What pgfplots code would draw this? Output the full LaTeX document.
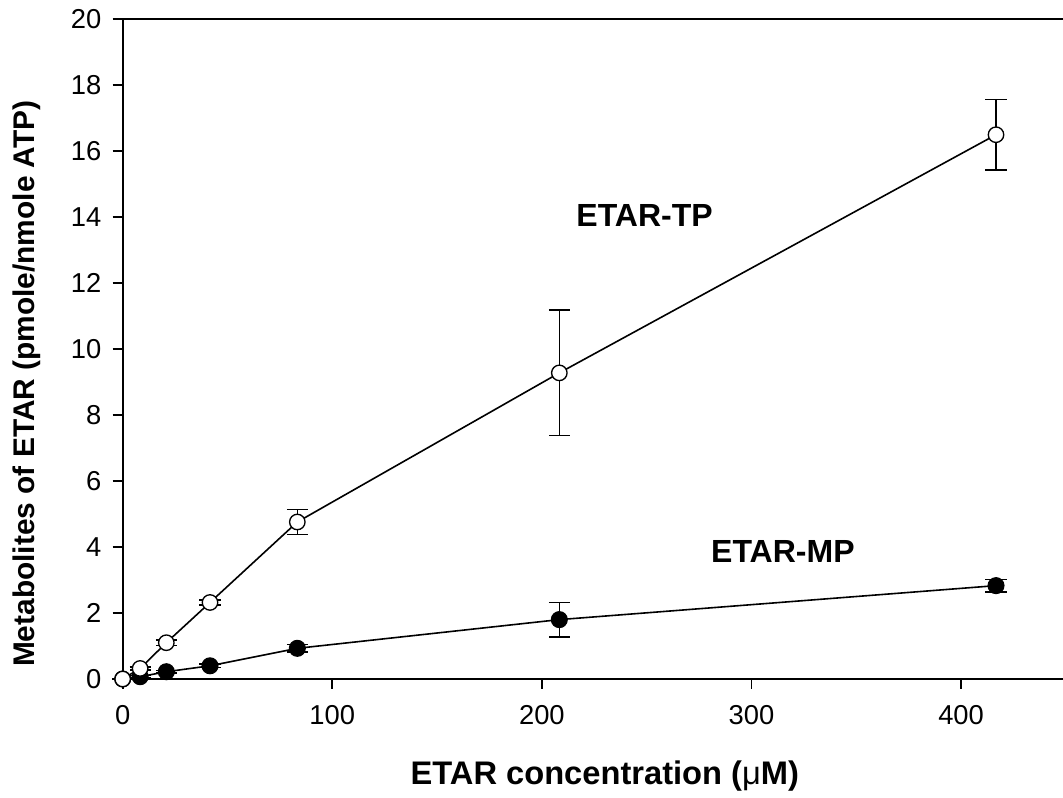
\documentclass[border=0pt]{standalone}
\usepackage{fontspec}
\setmainfont{Liberation Sans}
\usepackage{pgfplots}
\pgfplotsset{compat=1.18}
\begin{document}
\begin{tikzpicture}[x=1pt,y=1pt]
\begin{axis}[
  scale only axis,
  width=705.2pt, height=494.8pt,
  xmin=0, xmax=448.6, ymin=0, ymax=20,
  axis x line*=bottom, axis y line*=left,
  axis line style={line width=1.3pt, -},
  xtick={0,100,200,300,400},
  ytick={0,2,...,20},
  tick align=outside, major tick length=7.5pt,
  tick style={line width=1.3pt, black},
  tick label style={font=\fontsize{20.5}{23}\selectfont},
  /pgf/number format/assume math mode=true,
  xticklabel style={yshift=-9pt},
  yticklabel style={xshift=-5pt},
  xlabel={\fontsize{24.5}{28}\selectfont\bfseries ETAR concentration ({\mdseries μ}M)},
  ylabel={\fontsize{22.4}{26}\selectfont\bfseries Metabolites of ETAR (pmole/nmole ATP)},
  xlabel style={yshift=-20pt, xshift=9pt},
  ylabel style={yshift=16pt, xshift=-26pt},
  clip=false,
  error bars/error bar style={line width=1.2pt, black},
  error bars/error mark options={rotate=90, mark size=7.9pt, line width=1.2pt, black},
]
\coordinate (O) at (rel axis cs:0,0);
\draw[line width=1.3pt] (rel axis cs:0,1) -- (rel axis cs:1,1);
% ETAR-MP
\addplot[black, line width=1.2pt, mark=*, mark size=6pt, mark options={fill=black, draw=black, line width=0.8pt},
  error bars/.cd, y dir=both, y explicit]
  table[x=x, y=y, y error=e] {
x y e
0 0 0
8.33 0.07 0.03
20.83 0.22 0.04
41.67 0.40 0.05
83.33 0.93 0.12
208.33 1.80 0.52
416.67 2.83 0.19
};
% ETAR-TP
\addplot[black, line width=1.2pt, mark=*, mark size=5.8pt, mark options={fill=white, draw=black, line width=1.0pt},
  error bars/.cd, y dir=both, y explicit]
  table[x=x, y=y, y error=e] {
x y e
0 0 0
8.33 0.32 0.05
20.83 1.10 0.08
41.67 2.32 0.08
83.33 4.76 0.38
208.33 9.28 1.90
416.67 16.50 1.07
};
\node[font=\fontsize{24}{28}\selectfont\bfseries] at (axis cs:249,14.06) {ETAR-TP};
\node[font=\fontsize{24}{28}\selectfont\bfseries] at (axis cs:315,3.86) {ETAR-MP};
\end{axis}
\pgfresetboundingbox
\path (O) ++(-92pt,-89.25pt) rectangle ++(797.25pt,598.5pt);
\end{tikzpicture}
\end{document}
